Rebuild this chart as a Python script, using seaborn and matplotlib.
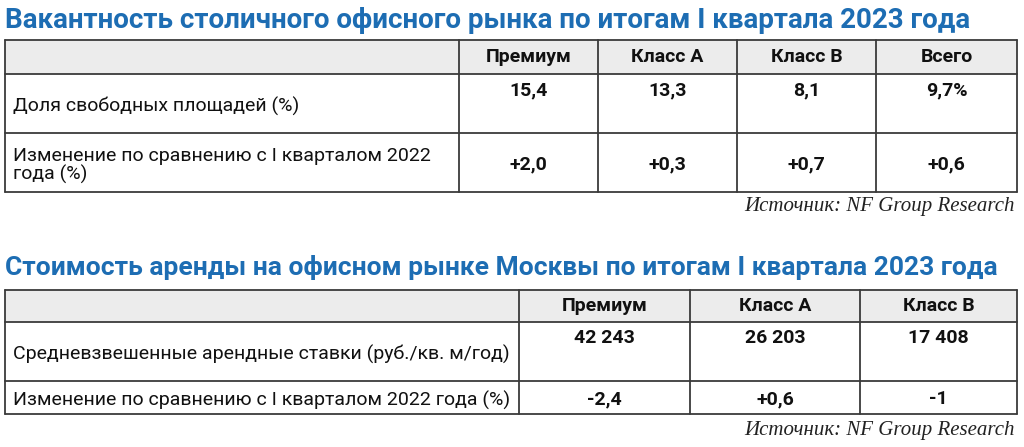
import matplotlib.pyplot as plt
import seaborn as sns
from matplotlib.patches import Rectangle

sns.set_theme(style="white")
plt.rcParams['font.family'] = ['Liberation Sans Narrow', 'Roboto', 'DejaVu Sans']

# table 1: vacancy
title1 = "Вакантность столичного офисного рынка по итогам I квартала 2023 года"
cols1 = ["Премиум", "Класс А", "Класс В", "Всего"]
rows1 = ["Доля свободных площадей (%)",
         "Изменение по сравнению с I кварталом 2022\nгода (%)"]
vals1 = [["15,4", "13,3", "8,1", "9,7%"],
         ["+2,0", "+0,3", "+0,7", "+0,6"]]

# table 2: rent
title2 = "Стоимость аренды на офисном рынке Москвы по итогам I квартала 2023 года"
cols2 = ["Премиум", "Класс А", "Класс В"]
rows2 = ["Средневзвешенные арендные ставки (руб./кв. м/год)",
         "Изменение по сравнению с I кварталом 2022 года (%)"]
vals2 = [["42 243", "26 203", "17 408"],
         ["-2,4", "+0,6", "-1"]]

source = "Источник: NF Group Research"

BLUE = "#1d6db3"
LINE = "#3a3a3a"

fig = plt.figure(figsize=(10.24, 4.47), dpi=100)
ax = fig.add_axes([0, 0, 1, 1])
ax.set_xlim(0, 1024)
ax.set_ylim(447, 0)
ax.axis("off")


def draw_table(title, ty, tsize, cols, rows, vals, xs, ys, sy):
    ax.text(5, ty, title, color=BLUE, fontsize=tsize, fontweight="bold",
            va="center", ha="left")
    # header fill
    ax.add_patch(Rectangle((xs[0], ys[0]), xs[-1] - xs[0], ys[1] - ys[0],
                           facecolor="#ececec", edgecolor="none"))
    for y in ys:
        ax.plot([xs[0], xs[-1]], [y, y], color=LINE, lw=1.3)
    for x in xs:
        ax.plot([x, x], [ys[0], ys[-1]], color=LINE, lw=1.3)
    for j, c in enumerate(cols):
        cx = (xs[j + 1] + xs[j + 2]) / 2
        ax.text(cx, (ys[0] + ys[1]) / 2, c, ha="center", va="center",
                fontsize=14, fontweight="bold", color="#111111")
    for i, r in enumerate(rows):
        ym = (ys[i + 1] + ys[i + 2]) / 2
        ax.text(xs[0] + 8, ym + 3, r, ha="left", va="center", fontsize=14,
                color="#111111", linespacing=1.05)
        for j, v in enumerate(vals[i]):
            cx = (xs[j + 1] + xs[j + 2]) / 2
            vy = ys[i + 1] + 16 if i == 0 else ym + 2
            ax.text(cx, vy, v, ha="center", va="center", fontsize=14,
                    fontweight="bold", color="#111111")
    ax.text(1015, sy, source, ha="right", va="center", fontsize=15,
            style="italic", color="#222222", family=["Liberation Serif", "DejaVu Serif"])


draw_table(title1, 20, 20, cols1, rows1, vals1,
           [5, 459, 598, 737, 876, 1017], [40, 74, 133, 192], 207)
draw_table(title2, 268, 19, cols2, rows2, vals2,
           [5, 519, 690, 860, 1017], [290, 322, 381, 414], 431)

fig.savefig("out.png", dpi=100)
